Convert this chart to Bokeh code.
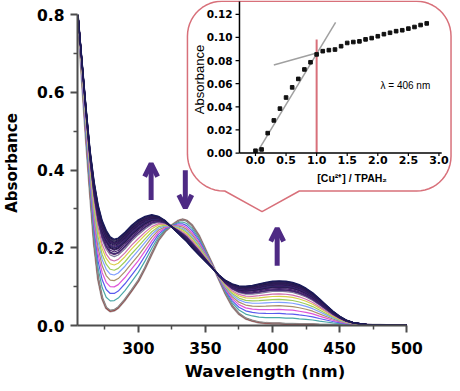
import numpy as np
from bokeh.plotting import figure
from bokeh.models import Range1d, FixedTicker, PrintfTickFormatter, Arrow, OpenHead
from bokeh.core.properties import value
from bokeh.embed import file_html
from bokeh.resources import INLINE

# ---------------- data ----------------
wavelength = [255, 258, 261, 264, 267, 270, 273, 276, 279, 282, 285, 290, 295, 300, 305,
              310, 315, 320, 325, 330, 333, 336, 340, 345, 350, 355, 360, 365, 370, 375,
              380, 385, 390, 395, 400, 405, 410, 415, 420, 425, 430, 435, 440, 445, 450,
              455, 460, 465, 470, 480, 490, 500]
# spectrum before Cu2+ addition (0 equiv.)
abs_start = [0.79, 0.63, 0.48, 0.34, 0.21, 0.12, 0.07, 0.045, 0.037, 0.039, 0.046, 0.066, 0.09, 0.115, 0.148,
             0.185, 0.22, 0.243, 0.258, 0.27, 0.273, 0.27, 0.258, 0.232, 0.195, 0.158, 0.12, 0.082, 0.05, 0.03,
             0.018, 0.012, 0.008, 0.006, 0.005, 0.005, 0.004, 0.004, 0.003, 0.003, 0.003, 0.002, 0.002, 0.002, 0.002,
             0.001, 0.001, 0.001, 0.001, 0.001, 0.0, 0.0]
# spectrum at the end of the titration (2.8 equiv.)
abs_end = [0.80, 0.68, 0.56, 0.45, 0.37, 0.31, 0.27, 0.245, 0.228, 0.222, 0.225, 0.24, 0.258, 0.272, 0.281,
           0.285, 0.281, 0.27, 0.253, 0.236, 0.226, 0.216, 0.2, 0.182, 0.165, 0.148, 0.13, 0.116, 0.107, 0.102,
           0.101, 0.103, 0.107, 0.111, 0.114, 0.115, 0.114, 0.111, 0.105, 0.096, 0.084, 0.069, 0.053, 0.037, 0.024,
           0.014, 0.008, 0.005, 0.003, 0.002, 0.001, 0.001]

# inset: absorbance at 406 nm vs [Cu2+]/TPAH2
ratio = [0.0, 0.1, 0.2, 0.3, 0.4, 0.5, 0.6, 0.7, 0.8, 0.9, 1.0, 1.1, 1.2, 1.3, 1.4,
         1.5, 1.6, 1.7, 1.8, 1.9, 2.0, 2.1, 2.2, 2.3, 2.4, 2.5, 2.6, 2.7, 2.8]
abs_406 = [0.002, 0.0031, 0.0172, 0.0282, 0.0384, 0.048, 0.0568, 0.0641, 0.0723, 0.0785, 0.0853, 0.0881,
           0.089, 0.0895, 0.0924, 0.0952, 0.096, 0.0966, 0.0983, 0.0994, 0.101, 0.1028, 0.104, 0.1054,
           0.1062, 0.1076, 0.109, 0.1107, 0.1121]
fit1_x = [0.02, 1.31]
fit1_y = [0.0, 0.113]
fit2_x = [0.30, 1.03]
fit2_y = [0.0762, 0.0869]
equiv_x = [1.0, 1.0]
equiv_y = [0.0, 0.0982]

x_ticks = [300, 350, 400, 450, 500]
x_minor = [275, 325, 375, 425, 475]
y_ticks = [0.0, 0.2, 0.4, 0.6, 0.8]
y_minor = [0.1, 0.3, 0.5, 0.7]
inset_x_ticks = [0.0, 0.5, 1.0, 1.5, 2.0, 2.5, 3.0]
inset_y_ticks = [0.0, 0.02, 0.04, 0.06, 0.08, 0.10, 0.12]

curve_colors = ["#9c3030", "#8a8a8a", "#4aa8a8", "#5a5aee", "#e055d8", "#a8906a", "#7f9fff",
                "#9ccc5a", "#d8cf4a", "#d070b0", "#7a7a9a", "#8a4a8a", "#5a3a8a", "#3a2a6a",
                "#4a2070", "#2a2058", "#5a2a7a", "#1e1a4a", "#3a1a5a", "#2a2a6a", "#46206e",
                "#1a1440", "#382466", "#241a52", "#401c62", "#1c1848", "#30205c", "#201640", "#1a1a5a"]

# ---------------- layout ----------------
W, H = 452, 383
FL, FB = 70, 57
FW, FH = W - FL, H - FB
X0 = 254.6
NM_PX = 1.366
Y_TOP_PX = 14.3
Y_PX = (FH - Y_TOP_PX) / 0.8

# inset placement (canvas pixels)
IOX, IOY = 251.3, 153.0      # pixel of inset origin (0, 0)
IXS, IYS = 62.3, 1159.8      # pixels per unit

def ix(px):
    return (px - IOX) / IXS

def iy(py):
    return (IOY - py) / IYS

p = figure(width=W, height=H, output_backend="svg", toolbar_location=None,
           x_range=Range1d(X0, X0 + FW / NM_PX), y_range=Range1d(0, FH / Y_PX),
           min_border_left=FL, min_border_bottom=FB, min_border_top=0, min_border_right=0)
p.title.visible = False
p.outline_line_color = None
p.xgrid.visible = False
p.ygrid.visible = False
p.background_fill_color = "white"
p.border_fill_color = "white"

p.extra_x_ranges = {"ix": Range1d(ix(FL), ix(W))}
p.extra_y_ranges = {"iy": Range1d(iy(FH), iy(0))}

AX = "#4d4d4d"
p.xaxis.ticker = FixedTicker(ticks=x_ticks, minor_ticks=x_minor)
p.yaxis.ticker = FixedTicker(ticks=y_ticks, minor_ticks=y_minor)
p.yaxis.formatter = PrintfTickFormatter(format="%.1f")
p.xaxis.bounds = (X0, 500)
p.yaxis.bounds = (0, 0.8)
for ax in (p.xaxis[0], p.yaxis[0]):
    ax.axis_line_color = AX
    ax.axis_line_width = 2
    ax.major_tick_line_color = AX
    ax.major_tick_line_width = 2
    ax.minor_tick_line_color = AX
    ax.minor_tick_line_width = 1.5
    ax.major_tick_out = 7
    ax.major_tick_in = 0
    ax.minor_tick_out = 4
    ax.minor_tick_in = 0
    ax.major_label_text_font = "DejaVu Sans"
    ax.major_label_text_font_style = "bold"
    ax.major_label_text_font_size = "15.5px"
    ax.major_label_text_color = "black"
    ax.axis_label_text_font = "DejaVu Sans"
    ax.axis_label_text_font_style = "bold"
    ax.axis_label_text_color = "black"
p.xaxis.axis_label = "Wavelength (nm)"
p.yaxis.axis_label = "Absorbance"
p.xaxis.axis_label_text_font_size = "16.5px"
p.yaxis.axis_label_text_font_size = "15px"
p.xaxis.major_label_standoff = 9
p.xaxis.axis_label_standoff = 5
p.yaxis.major_label_standoff = 6
p.yaxis.axis_label_standoff = 13

# ---------------- main spectra ----------------
s0 = np.array(abs_start)
s1 = np.array(abs_end)
a0, a1 = abs_406[0], abs_406[-1]
for i, (a, c) in enumerate(zip(abs_406, curve_colors)):
    frac = (a - a0) / (a1 - a0)
    ys = s0 + frac * (s1 - s0)
    if i == 0:
        p.line(wavelength, ys, line_color="#a8a8a8", line_width=2.6)
    p.line(wavelength, ys, line_color=c, line_width=1.4 if i in (0, len(abs_406) - 1) else 1.2)

# arrows
PURPLE = "#4e2a84"
for (xa, ya0, ya1) in [(309.5, 0.323, 0.417), (335.0, 0.400, 0.303), (403.5, 0.154, 0.250)]:
    p.add_layout(Arrow(end=OpenHead(size=13, line_width=5, line_color=PURPLE),
                       x_start=xa, y_start=ya0, x_end=xa, y_end=ya1,
                       line_color=PURPLE, line_width=5))

# ---------------- inset ----------------
L, R, T, B = 182.0, 450.5, 0.8, 191.1
r, rb = 35.0, 37.0
tip = (258.0, 211.8)
base_l, base_r = 220.0, 296.0

def arc(cx, cy, rad, t0, t1, n=14):
    t = np.radians(np.linspace(t0, t1, n))
    return list(cx + rad * np.cos(t)), list(cy + rad * np.sin(t))

bx, by = [], []
def add(xs, ys):
    bx.extend(xs); by.extend(ys)
add([L + r, R - r], [T, T])
add(*arc(R - r, T + r, r, -90, 0))
add([R, R], [T + r, B - r])
add(*arc(R - r, B - r, r, 0, 90))
add([base_r, tip[0], base_l], [B, tip[1], B])
add(*arc(L + rb, B - rb, rb, 90, 180))
add([L, L], [B - rb, T + r])
add(*arc(L + r, T + r, r, 180, 270))
p.patch([ix(v) for v in bx], [iy(v) for v in by], x_range_name="ix", y_range_name="iy",
        fill_color="white", line_color="#d8707a", line_width=1.5)

IR = dict(x_range_name="ix", y_range_name="iy")
AXX = ix(235.0)
p.line(fit1_x, fit1_y, line_color="#a0a0a0", line_width=1.5, **IR)
p.line(fit2_x, fit2_y, line_color="#a0a0a0", line_width=1.5, **IR)
p.line(equiv_x, equiv_y, line_color="#d8707a", line_width=2, **IR)
p.scatter(ratio, abs_406, marker="square", size=3.6, fill_color="#111111", line_color="#111111", **IR)

# inset axes
p.line([AXX, AXX], [0, iy(1.0)], line_color="black", line_width=1.5, **IR)
p.line([AXX, ix(441)], [0, 0], line_color="black", line_width=1.5, **IR)
n = len(inset_y_ticks)
p.segment(x0=[AXX] * n, y0=inset_y_ticks, x1=[AXX - 4 / IXS] * n, y1=inset_y_ticks,
          line_color="black", line_width=1.2, **IR)
m = len(inset_x_ticks)
p.segment(x0=inset_x_ticks, y0=[0] * m, x1=inset_x_ticks, y1=[-3 / IYS] * m,
          line_color="black", line_width=1.2, **IR)
p.text(x=[AXX - 7 / IXS] * n, y=inset_y_ticks, text=["%.2f" % v for v in inset_y_ticks],
       text_font=value("DejaVu Sans"), text_font_style="bold", text_font_size=value("10.5px"),
       text_align="right", text_baseline="middle", text_color="black", **IR)
p.text(x=inset_x_ticks, y=[iy(IOY + 2.5)] * m, text=["%.1f" % v for v in inset_x_ticks],
       text_font=value("DejaVu Sans"), text_font_style="bold", text_font_size=value("11px"),
       text_align="center", text_baseline="top", text_color="black", **IR)
p.text(x=[ix(194.5)], y=[iy(79.3)], text=["Absorbance"], angle=np.pi / 2,
       text_font=value("Liberation Sans"), text_font_size=value("13px"),
       text_align="center", text_baseline="middle", text_color="black", **IR)
p.text(x=[ix(349.8)], y=[iy(177.8)], text=["[Cu²⁺] / TPAH₂"],
       text_font=value("Liberation Sans"), text_font_style="bold", text_font_size=value("10.5px"),
       text_align="center", text_baseline="middle", text_color="black", **IR)
p.text(x=[ix(404.0)], y=[iy(85.7)], text=["λ = 406 nm"],
       text_font=value("Liberation Sans"), text_font_size=value("10px"),
       text_align="center", text_baseline="middle", text_color="black", **IR)

open("out.html", "w").write(file_html(p, INLINE))
